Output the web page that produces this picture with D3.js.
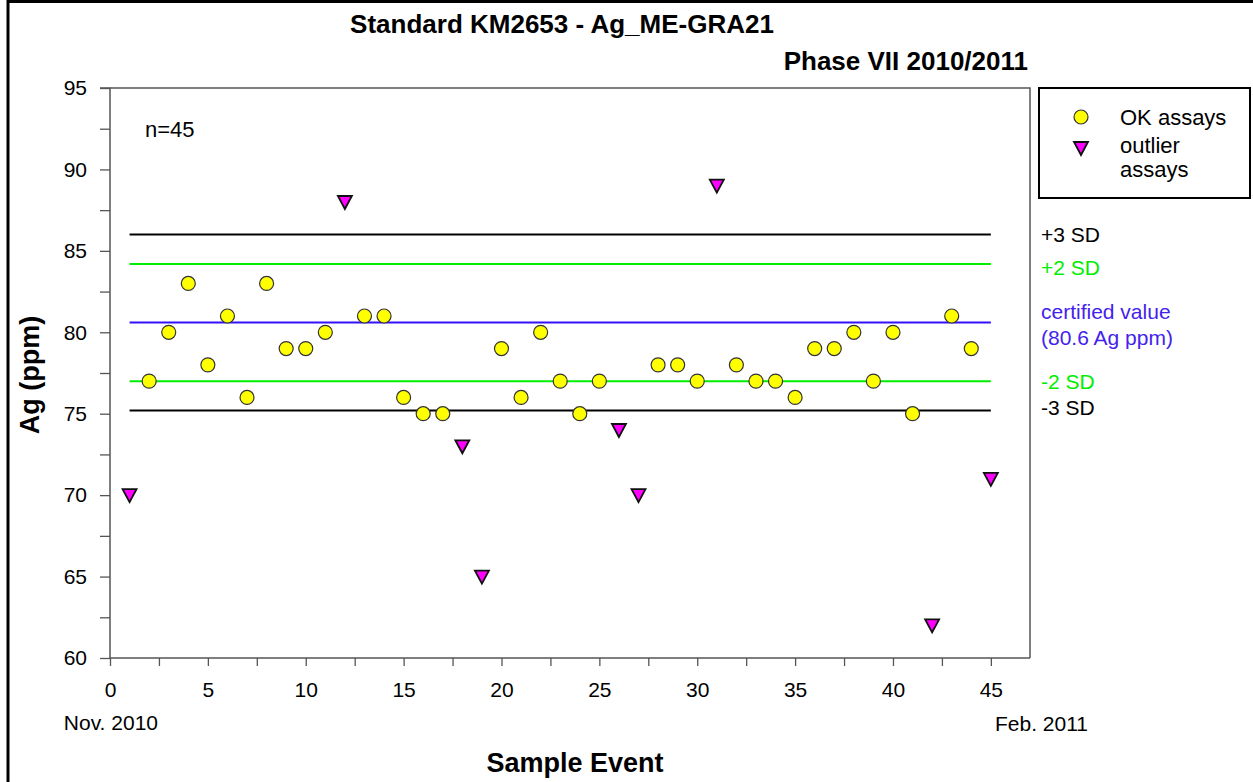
<!DOCTYPE html>
<html>
<head>
<meta charset="utf-8">
<script src="https://cdn.jsdelivr.net/npm/d3@7"></script>
<style>
  body { margin: 0; background: #fff; }
  text { font-family: "Liberation Sans", Arial, sans-serif; }
</style>
</head>
<body>
<svg width="1253" height="782"></svg>
<script>
// sample events and Ag results (ppm)
var events = d3.range(1, 46);
var agValues = [70, 77, 80, 83, 78, 81, 76, 83, 79, 79, 80, 88, 81, 81, 76, 75, 75, 73, 65, 79,
  76, 80, 77, 75, 77, 74, 70, 78, 78, 77, 89, 78, 77, 77, 76, 79, 79, 80, 77, 80,
  75, 62, 81, 79, 71];
var outlierEvents = [1, 12, 18, 19, 26, 27, 31, 42, 45];

var certified = 80.6,
  sd = 1.8;
var refLines = [
  { name: "+3 SD", value: certified + 3 * sd, color: "#000000" },
  { name: "+2 SD", value: certified + 2 * sd, color: "#00ee00" },
  { name: "certified", value: certified, color: "#3311ff" },
  { name: "-2 SD", value: certified - 2 * sd, color: "#00ee00" },
  { name: "-3 SD", value: certified - 3 * sd, color: "#000000" }
];

var yTicks = d3.range(60, 95.1, 2.5);
var xTicks = d3.range(0, 47, 2.5);

var svg = d3.select("svg");

var plotLeft = 110, plotRight = 1030, plotTop = 88, plotBottom = 658;

var x = d3.scaleLinear().domain([0, 47]).range([plotLeft, plotRight]);
var y = d3.scaleLinear().domain([60, 95]).range([plotBottom, plotTop]);

// outer border of the picture
svg.append("path")
  .attr("d", "M8,782 L8,1.5 L1253,1.5")
  .attr("fill", "none").attr("stroke", "#000").attr("stroke-width", 3);

// frame top + right
svg.append("path")
  .attr("d", "M" + plotLeft + "," + plotTop + " L" + plotRight + "," + plotTop + " L" + plotRight + "," + plotBottom)
  .attr("fill", "none").attr("stroke", "#555").attr("stroke-width", 1.5);

// axes
var yAxis = svg.append("g")
  .attr("transform", "translate(" + plotLeft + ",0)")
  .call(d3.axisLeft(y).tickValues(yTicks).tickSize(10).tickPadding(13)
    .tickFormat(function (d) { return d % 5 === 0 ? d : ""; }));
var xAxis = svg.append("g")
  .attr("transform", "translate(0," + plotBottom + ")")
  .call(d3.axisBottom(x).tickValues(xTicks).tickSize(8).tickPadding(16)
    .tickFormat(function (d) { return d % 5 === 0 ? d : ""; }));
[yAxis, xAxis].forEach(function (g) {
  g.select(".domain").attr("stroke", "#555").attr("stroke-width", 1.5);
  g.selectAll(".tick line").attr("stroke", "#555").attr("stroke-width", 1.3);
  g.selectAll(".tick text").attr("fill", "#000").style("font-size", "21px")
    .style("font-family", "'Liberation Sans', Arial, sans-serif");
});
yAxis.select(".domain").attr("d", "M-10," + plotTop + "H0V" + plotBottom);
xAxis.select(".domain").attr("d", "M" + plotLeft + ",0H" + plotRight);

// reference lines
svg.selectAll("line.ref")
  .data(refLines)
  .enter()
  .append("line")
  .attr("class", "ref")
  .attr("x1", x(1)).attr("x2", x(45))
  .attr("y1", function (d) { return y(d.value); })
  .attr("y2", function (d) { return y(d.value); })
  .attr("stroke", function (d) { return d.color; })
  .attr("stroke-width", 2);

// points
var points = events.map(function (e, i) {
  return { event: e, value: agValues[i], outlier: outlierEvents.indexOf(e) >= 0 };
});

svg.selectAll("circle.ok")
  .data(points.filter(function (d) { return !d.outlier; }))
  .enter()
  .append("circle")
  .attr("class", "ok")
  .attr("cx", function (d) { return x(d.event); })
  .attr("cy", function (d) { return y(d.value); })
  .attr("r", 7)
  .attr("fill", "#ffff00")
  .attr("stroke", "#333")
  .attr("stroke-width", 1.2);

var tri = "M-7,-6 L7,-6 L0,7 Z";
svg.selectAll("path.out")
  .data(points.filter(function (d) { return d.outlier; }))
  .enter()
  .append("path")
  .attr("class", "out")
  .attr("d", tri)
  .attr("transform", function (d) { return "translate(" + x(d.event) + "," + y(d.value) + ")"; })
  .attr("fill", "#ff00ff")
  .attr("stroke", "#111")
  .attr("stroke-width", 1.8);

// titles
svg.append("text")
  .attr("x", 562).attr("y", 33).attr("text-anchor", "middle")
  .style("font-size", "26px").style("font-weight", "bold")
  .text("Standard KM2653 - Ag_ME-GRA21");
svg.append("text")
  .attr("x", 1028).attr("y", 70).attr("text-anchor", "end")
  .style("font-size", "26px").style("font-weight", "bold")
  .text("Phase VII 2010/2011");

svg.append("text")
  .attr("transform", "translate(39,375) rotate(-90)")
  .attr("text-anchor", "middle")
  .style("font-size", "27px").style("font-weight", "bold")
  .text("Ag (ppm)");
svg.append("text")
  .attr("x", 575).attr("y", 772).attr("text-anchor", "middle")
  .style("font-size", "27px").style("font-weight", "bold")
  .text("Sample Event");

svg.append("text").attr("x", 145).attr("y", 137)
  .style("font-size", "22px").text("n=45");
svg.append("text").attr("x", 158).attr("y", 730).attr("text-anchor", "end")
  .style("font-size", "21px").text("Nov. 2010");
svg.append("text").attr("x", 1088).attr("y", 731).attr("text-anchor", "end")
  .style("font-size", "21px").text("Feb. 2011");

// right side labels
var sideLabels = [
  { text: "+3 SD", yPos: 242, color: "#000" },
  { text: "+2 SD", yPos: 275, color: "#00ee00" },
  { text: "certified value", yPos: 319, color: "#4422ee" },
  { text: "(80.6 Ag ppm)", yPos: 345, color: "#4422ee" },
  { text: "-2 SD", yPos: 389, color: "#00ee00" },
  { text: "-3 SD", yPos: 415, color: "#000" }
];
svg.selectAll("text.side")
  .data(sideLabels)
  .enter()
  .append("text")
  .attr("class", "side")
  .attr("x", 1041)
  .attr("y", function (d) { return d.yPos; })
  .attr("fill", function (d) { return d.color; })
  .style("font-size", "21px")
  .text(function (d) { return d.text; });

// legend
var legend = svg.append("g");
legend.append("rect")
  .attr("x", 1039).attr("y", 88).attr("width", 211).attr("height", 110)
  .attr("fill", "none").attr("stroke", "#000").attr("stroke-width", 2);
legend.append("circle")
  .attr("cx", 1081).attr("cy", 117).attr("r", 7)
  .attr("fill", "#ffff00").attr("stroke", "#333").attr("stroke-width", 1.2);
legend.append("path")
  .attr("d", tri).attr("transform", "translate(1081,148)")
  .attr("fill", "#ff00ff").attr("stroke", "#111").attr("stroke-width", 1.8);
legend.append("text").attr("x", 1120).attr("y", 125)
  .style("font-size", "22px").text("OK assays");
legend.append("text").attr("x", 1120).attr("y", 153)
  .style("font-size", "22px").text("outlier");
legend.append("text").attr("x", 1120).attr("y", 177)
  .style("font-size", "22px").text("assays");
</script>
</body>
</html>
